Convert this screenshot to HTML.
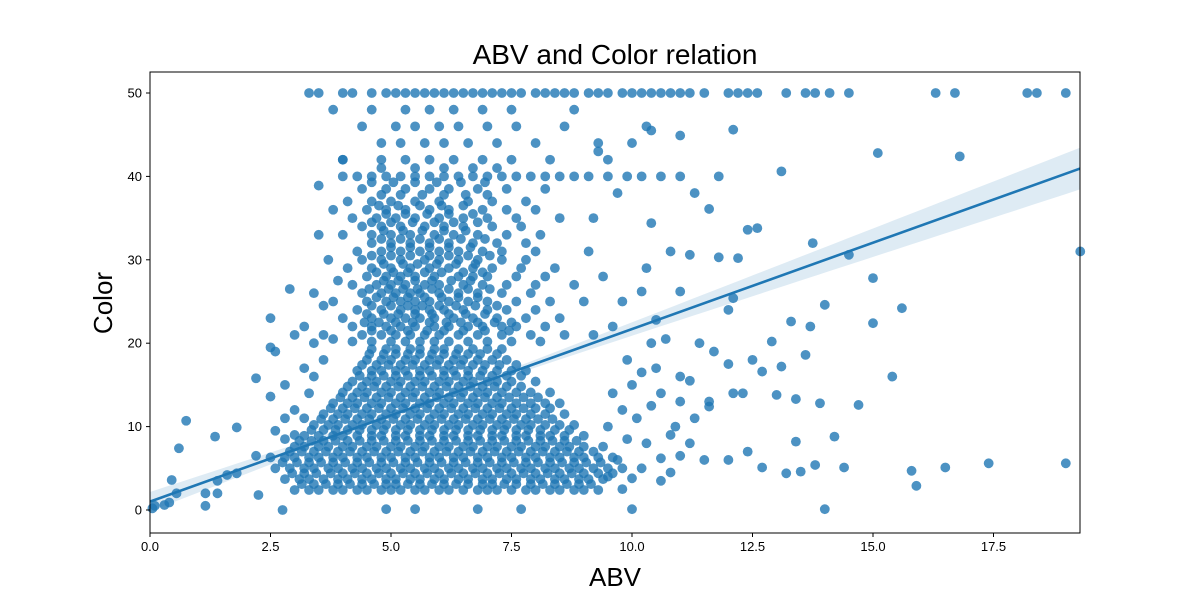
<!DOCTYPE html>
<html><head><meta charset="utf-8"><style>
body{margin:0;background:#fff;}
svg{display:block;font-family:"Liberation Sans","DejaVu Sans",sans-serif;}
</style></head><body>
<svg id="chart" width="1200" height="600" viewBox="0 0 1200 600">
<rect x="0" y="0" width="1200" height="600" fill="#fff"/>
<text x="615" y="64" font-size="28" text-anchor="middle" fill="#000">ABV and Color relation</text>
<text x="615" y="586" font-size="26" text-anchor="middle" fill="#000">ABV</text>
<text transform="translate(112,303) rotate(-90)" font-size="26" text-anchor="middle" fill="#000">Color</text>
<g id="band"></g>
<g id="points"></g>
<g id="reg"></g>
<g id="axes"></g>
</svg>
<script>
const xTicks=[0,2.5,5,7.5,10,12.5,15,17.5];
const xTickLabels=["0.0","2.5","5.0","7.5","10.0","12.5","15.0","17.5"];
const yTicks=[0,10,20,30,40,50];
const yTickLabels=["0","10","20","30","40","50"];
const regIntercept=1.0;
const regSlope=2.07;
const pointRows=[
[2.4,[3.0,3.3,3.5,3.8,4.0,4.3,4.5,4.8,5.0,5.2,5.5,5.7,6.0,6.2,6.5,6.8,7.0,7.2,7.5,7.8,8.0,8.3,8.5,8.8,9.0,9.3]],
[3.1,[3.15,3.4,3.65,3.9,4.15,4.4,4.65,4.9,5.1,5.35,5.6,5.85,6.1,6.35,6.6,6.9,7.1,7.35,7.6,7.9,8.15,8.4,8.65,8.9,9.15]],
[3.7,[2.8,3.1,3.3,3.6,3.9,4.1,4.4,4.6,4.9,5.1,5.4,5.6,5.9,6.1,6.4,6.6,6.9,7.1,7.4,7.6,7.9,8.1,8.4,8.6,8.9,9.1,9.4]],
[4.4,[2.95,3.2,3.45,3.75,4.0,4.25,4.5,4.75,5.0,5.25,5.5,5.75,6.0,6.25,6.5,6.75,7.0,7.25,7.5,7.75,8.0,8.25,8.5,8.75,9.0,9.3,9.6]],
[5.0,[2.6,2.9,3.2,3.4,3.7,3.9,4.2,4.4,4.7,4.9,5.2,5.4,5.7,5.9,6.2,6.4,6.7,6.9,7.2,7.4,7.7,7.9,8.2,8.4,8.7,8.9,9.2,9.5,9.8]],
[5.7,[2.75,3.05,3.3,3.55,3.8,4.05,4.3,4.55,4.8,5.05,5.3,5.55,5.8,6.05,6.3,6.55,6.8,7.05,7.3,7.55,7.8,8.05,8.3,8.55,8.8,9.05,9.35]],
[6.3,[2.5,2.8,3.0,3.3,3.5,3.8,4.0,4.3,4.5,4.8,5.0,5.3,5.5,5.8,6.0,6.3,6.5,6.8,7.0,7.3,7.5,7.8,8.0,8.3,8.5,8.8,9.0,9.3,9.6]],
[7.0,[2.9,3.15,3.4,3.65,3.9,4.15,4.4,4.65,4.9,5.15,5.4,5.65,5.9,6.15,6.4,6.65,6.9,7.15,7.4,7.65,7.9,8.15,8.4,8.65,8.9,9.2]],
[7.6,[3.0,3.2,3.5,3.7,4.0,4.2,4.5,4.7,5.0,5.2,5.5,5.7,6.0,6.2,6.5,6.7,7.0,7.2,7.5,7.7,8.0,8.2,8.5,8.7,9.0,9.4]],
[8.3,[3.1,3.35,3.6,3.85,4.1,4.35,4.6,4.85,5.1,5.35,5.6,5.85,6.1,6.35,6.6,6.85,7.1,7.35,7.6,7.85,8.1,8.35,8.6,8.85]],
[8.9,[3.2,3.5,3.8,4.0,4.3,4.6,4.8,5.1,5.3,5.6,5.8,6.1,6.3,6.6,6.8,7.1,7.3,7.6,7.8,8.1,8.3,8.6,9.0]],
[9.6,[3.35,3.6,3.85,4.1,4.35,4.6,4.85,5.1,5.35,5.6,5.85,6.1,6.35,6.6,6.85,7.1,7.35,7.6,7.85,8.1,8.4,8.7]],
[10.2,[3.4,3.7,3.9,4.2,4.4,4.7,4.9,5.2,5.4,5.7,5.9,6.2,6.4,6.7,6.9,7.2,7.4,7.7,7.9,8.2,8.5,8.8]],
[10.9,[3.55,3.8,4.05,4.3,4.55,4.8,5.05,5.3,5.55,5.8,6.05,6.3,6.55,6.8,7.05,7.3,7.55,7.8,8.05,8.35]],
[11.5,[3.6,3.9,4.1,4.4,4.6,4.9,5.1,5.4,5.6,5.9,6.1,6.4,6.6,6.9,7.1,7.4,7.6,7.9,8.2,8.6]],
[12.2,[3.75,4.0,4.25,4.5,4.75,5.0,5.25,5.5,5.75,6.0,6.25,6.5,6.75,7.0,7.25,7.5,7.75,8.0,8.3]],
[12.8,[3.8,4.1,4.3,4.6,4.8,5.1,5.3,5.6,5.8,6.1,6.3,6.6,6.8,7.1,7.3,7.6,7.9,8.2,8.5]],
[13.5,[3.95,4.2,4.45,4.7,4.95,5.2,5.45,5.7,5.95,6.2,6.45,6.7,6.95,7.2,7.45,7.75,8.05]],
[14.1,[4.0,4.3,4.5,4.8,5.0,5.3,5.5,5.8,6.0,6.3,6.5,6.8,7.0,7.3,7.6,7.9,8.3]],
[14.8,[4.1,4.4,4.65,4.9,5.15,5.4,5.65,5.9,6.15,6.4,6.65,6.9,7.15,7.4,7.7]],
[15.4,[4.2,4.5,4.7,5.0,5.2,5.5,5.7,6.0,6.2,6.5,6.7,7.0,7.2,7.5,8.0]],
[16.1,[4.35,4.6,4.85,5.1,5.35,5.6,5.85,6.1,6.35,6.6,6.85,7.1,7.4,7.7]],
[16.7,[4.3,4.6,4.8,5.1,5.3,5.6,5.8,6.1,6.3,6.6,6.9,7.2,7.5,7.8]],
[17.4,[4.4,4.7,4.95,5.2,5.45,5.7,5.95,6.2,6.45,6.7,6.95,7.25,7.6]],
[18.0,[4.5,4.8,5.0,5.3,5.5,5.8,6.0,6.3,6.5,6.8,7.1,7.4]],
[18.7,[4.55,4.85,5.1,5.35,5.6,5.85,6.1,6.35,6.6,6.85,7.2]],
[19.3,[4.6,4.9,5.1,5.4,5.6,5.9,6.1,6.4,6.7,7.0,7.3]],
[20.2,[4.2,4.6,5.0,5.3,5.6,5.9,6.2,6.6,7.0,7.5,8.1]],
[21,[3.6,4.4,4.8,5.1,5.4,5.7,6.0,6.4,6.8,7.3,7.9,8.6,9.2]],
[21.5,[4.6,5.0,5.35,5.75,6.1,6.5,6.95,7.45]],
[22,[4.2,4.6,4.9,5.2,5.5,5.9,6.2,6.6,6.9,7.3,7.6,8.2]],
[22.5,[4.45,4.75,5.1,5.45,5.8,6.15,6.45,6.8,7.15,7.5]],
[23,[4.0,4.6,5.0,5.3,5.6,5.9,6.3,6.7,7.2,7.8,8.5]],
[23.5,[4.5,4.85,5.15,5.5,5.85,6.2,6.55,6.95]],
[24,[4.3,4.8,5.2,5.5,5.8,6.1,6.5,7.0,7.4,8.0]],
[24.5,[4.6,5.0,5.35,5.65,6.0,6.35,6.75,7.2]],
[25,[3.8,4.5,4.9,5.2,5.5,5.8,6.2,6.6,7.0,7.6,8.3,9.0]],
[25.5,[4.7,5.05,5.35,5.7,6.05,6.4,6.8]],
[26,[4.4,4.8,5.1,5.4,5.6,6.0,6.4,6.8,7.3,7.9]],
[26.5,[4.55,4.95,5.25,5.55,5.85,6.2,6.6,7.05]],
[27,[4.2,4.7,5.0,5.3,5.7,6.0,6.5,6.9,7.4,8.0,8.8]],
[27.5,[4.85,5.15,5.5,5.85,6.25,6.65]],
[28,[4.5,4.9,5.2,5.5,5.9,6.4,6.7,7.0,7.6,8.2]],
[28.5,[4.7,5.05,5.35,5.7,6.05,6.5,6.9]],
[29,[4.1,4.6,5.0,5.4,5.8,6.2,6.7,7.1,7.7,8.4]],
[29.5,[4.85,5.25,5.55,5.95,6.35,6.75]],
[30,[4.4,4.8,5.2,5.7,6.0,6.4,6.8,7.3,7.8]],
[30.5,[4.6,5.0,5.4,5.8,6.2,6.6,7.05]],
[31,[4.3,4.8,5.2,5.6,6.0,6.4,6.9,7.3,8.0,9.1]],
[31.5,[5.0,5.4,5.8,6.2,6.65]],
[32,[4.6,5.0,5.4,5.8,6.2,6.7,7.2,7.8]],
[32.5,[4.8,5.2,5.6,6.0,6.45,6.95]],
[33,[4.0,4.6,5.0,5.4,5.9,6.3,6.8,7.4,8.1]],
[33.5,[4.85,5.25,5.65,6.1,6.55]],
[34,[4.4,4.8,5.2,5.7,6.1,6.5,7.1,7.7]],
[34.5,[4.6,5.0,5.45,5.9,6.3,6.8]],
[35,[4.2,4.7,5.1,5.5,6.0,6.5,7.0,7.6,8.5]],
[35.5,[4.9,5.3,5.75,6.2,6.7]],
[36,[4.5,4.9,5.3,5.8,6.2,6.9,7.4,8.0]],
[36.5,[4.75,5.15,5.6,6.05,6.5]],
[37,[4.1,4.6,5.0,5.5,6.0,6.6,7.1,7.8]],
[37.8,[4.8,5.2,5.65,6.1,6.55,7.0]],
[38.5,[4.4,4.9,5.3,5.8,6.2,6.8,7.4,8.2]],
[39.3,[4.6,5.05,5.5,5.95,6.45,6.95]],
[40,[4.0,4.3,4.6,4.9,5.2,5.5,5.8,6.1,6.4,6.7,7.0,7.3,7.6,7.9,8.2,8.5,8.8,9.1,9.5,9.9,10.2,10.6,11.0]],
[41,[4.8,5.5,6.1,6.7,7.2]],
[42,[4.0,4.8,5.3,5.8,6.3,6.9,7.5,8.3,9.5]],
[44,[4.8,5.2,5.7,6.1,6.6,7.2,8.0,9.3]],
[46,[5.1,5.5,6.0,6.4,7.0,7.6,8.6,10.3]],
[48,[4.6,5.3,5.8,6.3,6.9,7.5,8.8]],
[50,[3.3,3.5,4.0,4.2,4.6,4.9,5.1,5.3,5.5,5.7,5.9,6.1,6.3,6.5,6.7,6.9,7.1,7.3,7.5,7.7,8.0,8.2,8.4,8.6,8.8,9.1,9.3,9.5,9.8,10.0,10.2,10.4,10.6,10.8,11.0,11.2,11.5,12.0,12.2,12.4,12.6,13.2,13.6,13.8,14.1,14.5,16.3,16.7,18.2,18.4,19.0]]
];
const outliers=[[0.05,0.2],[0.1,0.5],[0.3,0.6],[0.4,0.9],[0.45,3.6],[0.55,2.0],[0.6,7.4],[0.75,10.7],[1.15,2.0],[1.15,0.5],[1.35,8.8],[1.4,2.0],[1.4,3.5],[1.6,4.2],[1.8,9.9],[1.8,4.4],[2.2,15.8],[2.2,6.5],[2.25,1.8],[2.5,13.6],[2.5,23.0],[2.5,19.5],[2.6,19.0],[2.8,11.0],[2.75,0.0],[2.9,26.5],[3.0,21.0],[3.4,26],[3.5,38.9],[3.7,30],[4.9,0.1],[5.5,0.1],[6.8,0.1],[7.7,0.1],[10.0,0.1],[14.0,0.1],
[10.2,26.2],[10.5,22.8],[10.8,31],[11.0,26.2],[11.2,30.6],[11.4,20],[11.6,12.4],[11.6,36.1],[11.8,30.3],[12.0,24],[12.1,45.6],[12.1,25.4],[12.2,30.2],[12.3,14.0],[12.4,33.6],[12.5,18],[12.6,33.8],[12.7,16.6],[12.7,5.1],[12.9,20.2],[13.0,13.8],[13.1,17.2],[13.2,4.4],[13.1,40.6],[13.3,22.6],[13.4,8.2],[13.4,13.3],[13.5,4.6],[13.6,18.6],[13.7,22.0],[13.75,32.0],[13.8,5.4],[13.9,12.8],[14.0,24.6],[14.2,8.8],[14.4,5.1],[14.5,30.6],[14.7,12.6],[15.0,27.8],[15.0,22.4],[15.1,42.8],[15.4,16.0],[15.6,24.2],[15.8,4.7],[15.9,2.9],[16.5,5.1],[16.8,42.4],[17.4,5.6],[19.0,5.6],[19.3,31.0],
[9.5,10],[9.8,12],[10.0,15],[10.3,8],[10.6,14],[10.9,10],[11.2,8],[11.5,6],[10.2,5],[10.8,4.5],[9.9,18],[10.4,20],[11.0,16],[9.6,22],[9.4,28],[9.2,35],[9.7,38],[10.4,34.4],[10.0,44],[10.4,45.5],[11.0,44.9],[9.3,43],[11.3,38],[11.8,40],[12.0,17.5],[11.6,13],[12.1,14],[12.4,7],[12.0,6],[10.6,3.5],[11.0,6.5],[9.8,2.5],[11.2,15.5],[11.7,19],
[9.7,6],[9.9,8.5],[10.1,11],[10.4,12.5],[10.6,6.2],[10.8,9],[9.6,14],[10.2,16.5],[10.5,17],[9.5,4],[10.0,3.8],[11.3,11],[11.0,13],[10.7,20.5],[9.8,25],[10.3,29],
[3.2,17],[3.3,14],[3.0,12],[2.8,8.5],[2.6,9.5],[3.4,20],[3.6,24.5],[3.2,22],[2.8,15],[3.9,27.5],[3.5,33],[3.8,36],[4.0,42],[4.4,46],[3.8,48],[3.6,18],[3.4,16],[3.8,20.5],[3.2,11],[3.0,9]];

const L=150,R=1080,T=72,B=533;
const xMin=0,xMax=930/48.2;
const yMin=-(533-510)/8.34,yMax=(510-72)/8.34;
const sx=v=>L+(v-xMin)/(xMax-xMin)*(R-L);
const sy=v=>B-(v-yMin)/(yMax-yMin)*(B-T);
const NS="http://www.w3.org/2000/svg";
function mk(tag,attrs,parent){const e=document.createElementNS(NS,tag);for(const k in attrs)e.setAttribute(k,attrs[k]);parent.appendChild(e);return e;}

const pts=document.getElementById('points');
function dot(x,y){
  const c=mk('circle',{cx:sx(x),cy:sy(y),r:4.9,fill:'#1f77b4','fill-opacity':0.8},pts);
  
  
}
pointRows.forEach(r=>r[1].forEach(x=>dot(x,r[0])));
outliers.forEach(p=>dot(p[0],p[1]));

const band=document.getElementById('band');
let up=[],dn=[];
for(let i=0;i<=60;i++){const x=xMin+(xMax-xMin)*i/60;const y=regIntercept+regSlope*x;const h=Math.sqrt(0.09+0.0348*(x-6)*(x-6));up.push(sx(x)+','+sy(y+h));dn.unshift(sx(x)+','+sy(y-h));}
const poly=mk('polygon',{points:up.concat(dn).join(' '),fill:'#1f77b4','fill-opacity':0.15},band);


const reg=document.getElementById('reg');
const ln=mk('line',{x1:sx(xMin),y1:sy(regIntercept+regSlope*xMin),x2:sx(xMax),y2:sy(regIntercept+regSlope*xMax),stroke:'#1f77b4','stroke-width':2.6},reg);



const ax=document.getElementById('axes');
const fr=mk('rect',{x:L,y:T,width:R-L,height:B-T,fill:'none',stroke:'#000','stroke-width':1},ax);


xTicks.forEach((v,i)=>{
  const t=mk('line',{x1:sx(v),x2:sx(v),y1:B,y2:B+4,stroke:'#000'},ax);
  
  
  const tx=mk('text',{x:sx(v),y:B+18,'font-size':13,'text-anchor':'middle',fill:'#000'},ax);
  tx.textContent=xTickLabels[i];
  
  
});
yTicks.forEach((v,i)=>{
  const t=mk('line',{x1:L-4,x2:L,y1:sy(v),y2:sy(v),stroke:'#000'},ax);
  
  
  const tx=mk('text',{x:L-8,y:sy(v)+4.5,'font-size':13,'text-anchor':'end',fill:'#000'},ax);
  tx.textContent=yTickLabels[i];
  
  
});
</script>
</body></html>
